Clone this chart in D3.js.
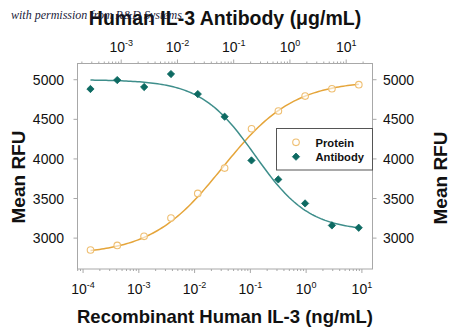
<!DOCTYPE html>
<html>
<head>
<meta charset="utf-8">
<script src="https://cdn.jsdelivr.net/npm/d3@7"></script>
<style>
  body { margin: 0; background: #fff; }
  svg { display: block; font-family: Arial, "Liberation Sans", sans-serif; }
</style>
</head>
<body>
<svg id="chart" width="450" height="330"></svg>
<script>
// ---- data ----
const proteinConc = [0.000136, 0.00041, 0.00124, 0.00377, 0.0114, 0.0345, 0.105, 0.318, 0.96, 2.9, 8.8]; // ng/mL
const proteinRFU  = [2850, 2908, 3022, 3254, 3564, 3885, 4381, 4605, 4794, 4886, 4937];
const antibodyConc = [0.000284, 0.00085, 0.00256, 0.00767, 0.023, 0.069, 0.207, 0.62, 1.86, 5.58, 16.7]; // ug/mL
const antibodyRFU  = [4883, 4996, 4908, 5072, 4819, 4533, 3981, 3741, 3438, 3160, 3131];
// 4-parameter logistic fits: [bottom, top, logEC50, hill]
const proteinFit  = [2790, 4990, -1.5, 0.68];
const antibodyFit = [3090, 5000, -0.62, -0.9];
const yTicks = [3000, 3500, 4000, 4500, 5000];
const bottomTicks = [-4, -3, -2, -1, 0, 1];
const topTicks = [-3, -2, -1, 0, 1];
const seriesNames = ["Protein", "Antibody"];

// ---- layout ----
const L = 77.5, R = 372.5, T = 63.5, B = 269;
const svg = d3.select("#chart");
const xB = d3.scaleLog().domain([Math.pow(10, -4.1), Math.pow(10, 1.19)]).range([L, R]);
const xT = d3.scaleLog().domain([Math.pow(10, -3.777), Math.pow(10, 1.468)]).range([L, R]);
const y = d3.scaleLinear().domain([2610, 5205]).range([B, T]);

const frameCol = "#a8a8a8";
const protLine = "#E5A53A", protMark = "#EFBF72";
const abLine = "#3E8E8B", abMark = "#0D6A62";

// frame
svg.append("rect").attr("x", L).attr("y", T).attr("width", R - L).attr("height", B - T)
  .attr("fill", "none").attr("stroke", frameCol).attr("stroke-width", 1);

// log minor ticks helper
function logTicks(scale) {
  const [a, b] = scale.domain();
  const out = [];
  for (let e = Math.floor(Math.log10(a)); e <= Math.ceil(Math.log10(b)); e++) {
    for (let m = 1; m <= 9; m++) {
      const v = m * Math.pow(10, e);
      if (v >= a && v <= b) out.push({ v, major: m === 1 });
    }
  }
  return out;
}
// bottom ticks
svg.append("g").selectAll("line").data(logTicks(xB)).join("line")
  .attr("x1", d => xB(d.v)).attr("x2", d => xB(d.v))
  .attr("y1", B).attr("y2", d => B + (d.major ? 4 : 2))
  .attr("stroke", frameCol);
// top ticks
svg.append("g").selectAll("line").data(logTicks(xT)).join("line")
  .attr("x1", d => xT(d.v)).attr("x2", d => xT(d.v))
  .attr("y1", T).attr("y2", d => T - (d.major ? 4 : 2))
  .attr("stroke", frameCol);
// y ticks left and right
svg.append("g").selectAll("line").data(yTicks).join("line")
  .attr("x1", L - 4).attr("x2", L).attr("y1", d => y(d)).attr("y2", d => y(d)).attr("stroke", frameCol);
svg.append("g").selectAll("line").data(yTicks).join("line")
  .attr("x1", R).attr("x2", R + 4).attr("y1", d => y(d)).attr("y2", d => y(d)).attr("stroke", frameCol);

// y labels
svg.append("g").selectAll("text").data(yTicks).join("text")
  .attr("x", 64).attr("y", d => y(d) + 5).attr("text-anchor", "end")
  .attr("font-size", 14).attr("fill", "#111").text(d => d);
svg.append("g").selectAll("text").data(yTicks).join("text")
  .attr("x", 383).attr("y", d => y(d) + 5).attr("text-anchor", "start")
  .attr("font-size", 14).attr("fill", "#111").text(d => d);

// power labels
function powLabel(g, scale, exps, yBase) {
  const t = g.selectAll("text").data(exps).join("text")
    .attr("x", d => scale(Math.pow(10, d))).attr("y", yBase)
    .attr("text-anchor", "middle").attr("font-size", 14).attr("fill", "#111");
  t.append("tspan").text("10");
  t.append("tspan").attr("font-size", 9).attr("dy", -6).text(d => d === 0 ? "0" : (d < 0 ? "-" + (-d) : d));
}
powLabel(svg.append("g"), xB, bottomTicks, 294);
powLabel(svg.append("g"), xT, topTicks, 52);

// axis titles
svg.append("text").attr("x", 225).attr("y", 323).attr("text-anchor", "middle")
  .attr("font-size", 18.5).attr("font-weight", "bold").attr("fill", "#111")
  .text("Recombinant Human IL-3 (ng/mL)");
svg.append("text").attr("x", 225).attr("y", 25).attr("text-anchor", "middle")
  .attr("font-size", 19.5).attr("font-weight", "bold").attr("fill", "#111")
  .text("Human IL-3 Antibody (μg/mL)");
svg.append("text").attr("transform", "translate(25,177) rotate(-90)").attr("text-anchor", "middle")
  .attr("font-size", 19).attr("font-weight", "bold").attr("fill", "#111").text("Mean RFU");
svg.append("text").attr("transform", "translate(447,178) rotate(-90)").attr("text-anchor", "middle")
  .attr("font-size", 19).attr("font-weight", "bold").attr("fill", "#111").text("Mean RFU");

// curves
function fourPL(p, x) { return p[0] + (p[1] - p[0]) / (1 + Math.pow(10, (p[2] - Math.log10(x)) * p[3])); }
function curve(conc, p) {
  const a = Math.log10(conc[0]), b = Math.log10(conc[conc.length - 1]);
  return d3.range(0, 121).map(i => { const c = Math.pow(10, a + (b - a) * i / 120); return [c, fourPL(p, c)]; });
}
svg.append("path").datum(curve(proteinConc, proteinFit))
  .attr("d", d3.line().x(d => xB(d[0])).y(d => y(d[1])))
  .attr("fill", "none").attr("stroke", protLine).attr("stroke-width", 1.5);
svg.append("path").datum(curve(antibodyConc, antibodyFit))
  .attr("d", d3.line().x(d => xT(d[0])).y(d => y(d[1])))
  .attr("fill", "none").attr("stroke", abLine).attr("stroke-width", 1.5);

// points
svg.append("g").selectAll("circle").data(proteinConc.map((c, i) => [c, proteinRFU[i]])).join("circle")
  .attr("cx", d => xB(d[0])).attr("cy", d => y(d[1])).attr("r", 3.3)
  .attr("fill", "#fff").attr("fill-opacity", 0.6).attr("stroke", protMark).attr("stroke-width", 1.1);
const diamond = d3.symbol().type(d3.symbolDiamond2).size(34);
svg.append("g").selectAll("path").data(antibodyConc.map((c, i) => [c, antibodyRFU[i]])).join("path")
  .attr("transform", d => `translate(${xT(d[0])},${y(d[1])})`).attr("d", diamond).attr("fill", abMark)
  .attr("stroke", abMark).attr("stroke-width", 0.8).attr("stroke-linejoin", "round");

// legend
const lg = svg.append("g");
lg.append("rect").attr("x", 276.5).attr("y", 128.5).attr("width", 96).attr("height", 41.5)
  .attr("fill", "#fff").attr("stroke", "#555").attr("stroke-width", 1);
lg.append("circle").attr("cx", 296).attr("cy", 142.3).attr("r", 3.3)
  .attr("fill", "#fff").attr("stroke", protMark).attr("stroke-width", 1.1);
lg.append("path").attr("transform", "translate(296,156.7)").attr("d", diamond).attr("fill", abMark)
  .attr("stroke", abMark).attr("stroke-width", 0.8).attr("stroke-linejoin", "round");
lg.selectAll("text").data(seriesNames).join("text")
  .attr("x", 315.5).attr("y", (d, i) => 146.5 + i * 14.4)
  .attr("font-size", 11.2).attr("font-weight", "bold").attr("fill", "#111").text(d => d);

// watermark
svg.append("text").attr("x", 11).attr("y", 19)
  .attr("font-family", "'Liberation Serif', 'DejaVu Serif', serif").attr("font-style", "italic")
  .attr("font-size", 12).attr("fill", "#1c1c3a").text("with permission from R&D Systems");
</script>
</body>
</html>
